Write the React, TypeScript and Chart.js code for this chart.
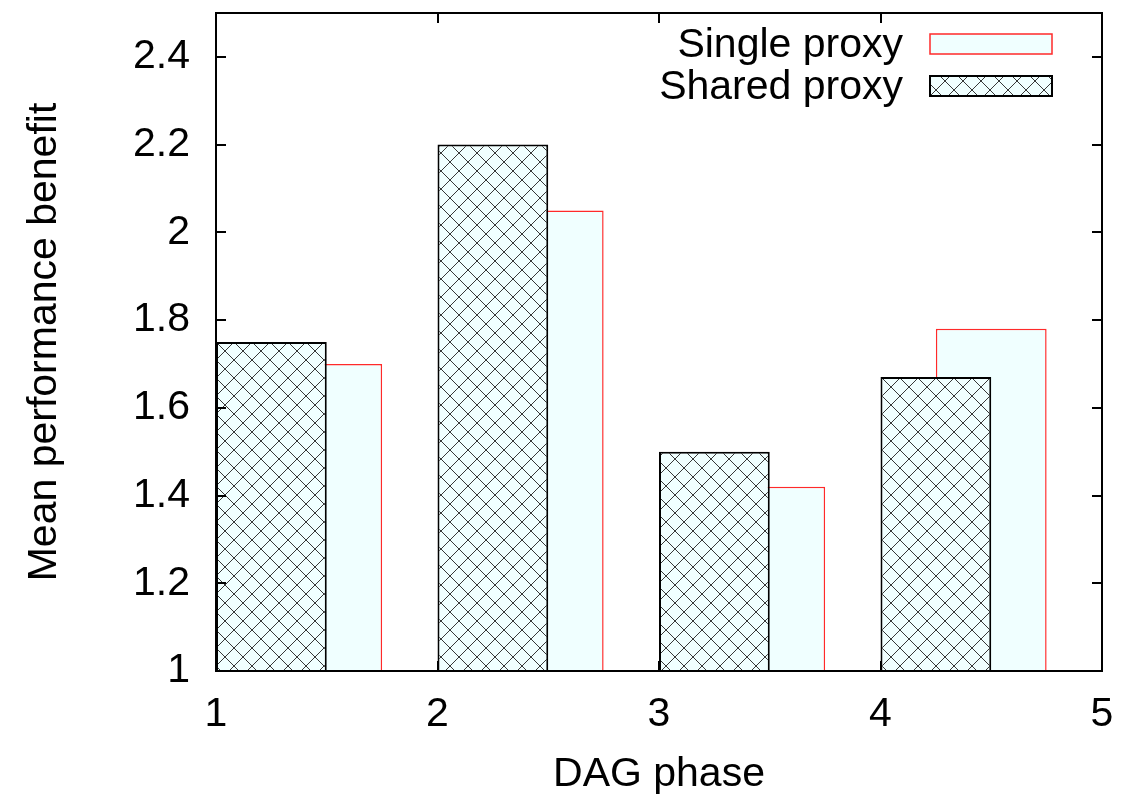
import React, { useEffect, useRef } from 'react';
import { Chart, registerables } from 'chart.js';

Chart.register(...registerables);

// ---- data ----
const phases = [1, 2, 3, 4];
const singleProxy = [1.7, 2.05, 1.42, 1.78];
const sharedProxy = [1.75, 2.2, 1.5, 1.67];
const seriesLabels = ['Single proxy', 'Shared proxy'];
const xTitle = 'DAG phase';
const yTitle = 'Mean performance benefit';

const FONT = "'Liberation Sans', Arial, Helvetica, sans-serif";
const AZURE = '#f0ffff';

function makeHatch(): CanvasPattern | string {
  const s = 18;
  const c = document.createElement('canvas');
  c.width = s;
  c.height = s;
  const g = c.getContext('2d');
  if (!g) return AZURE;
  g.fillStyle = AZURE;
  g.fillRect(0, 0, s, s);
  g.strokeStyle = '#383838';
  g.lineWidth = 1;
  for (const o of [-s, 0, s]) {
    g.beginPath();
    g.moveTo(o - 1, -1);
    g.lineTo(o + s + 1, s + 1);
    g.stroke();
    g.beginPath();
    g.moveTo(o + s + 1, -1);
    g.lineTo(o - 1, s + 1);
    g.stroke();
  }
  return g.createPattern(c, 'repeat') || AZURE;
}

const framePlugin = {
  id: 'gnuFrame',
  afterDatasetsDraw(chart: any) {
    const { ctx, chartArea: a, scales } = chart;
    ctx.save();
    ctx.strokeStyle = '#000';
    ctx.lineWidth = 2;
    const tl = 10;
    ctx.beginPath();
    scales.y.ticks.forEach((t: any) => {
      const py = Math.round(scales.y.getPixelForValue(t.value));
      ctx.moveTo(a.left, py);
      ctx.lineTo(a.left + tl, py);
      ctx.moveTo(a.right, py);
      ctx.lineTo(a.right - tl, py);
    });
    scales.x.ticks.forEach((t: any) => {
      const px = Math.round(scales.x.getPixelForValue(t.value));
      ctx.moveTo(px, a.bottom);
      ctx.lineTo(px, a.bottom - tl);
      ctx.moveTo(px, a.top);
      ctx.lineTo(px, a.top + tl);
    });
    ctx.stroke();
    ctx.strokeRect(a.left, a.top, a.right - a.left, a.bottom - a.top);

    // legend (gnuplot style: text right-aligned, sample box on the right)
    const ds = chart.data.datasets;
    const boxRight = a.right - 50;
    const boxW = 122;
    const boxH = 20;
    const textRight = boxRight - boxW - 27;
    ctx.font = `41px ${FONT}`;
    ctx.textAlign = 'right';
    ctx.textBaseline = 'alphabetic';
    ds.forEach((d: any, i: number) => {
      const cy = a.top + 31 + i * 42;
      ctx.fillStyle = '#000';
      ctx.fillText(d.label, textRight, cy + 13);
      ctx.fillStyle = d.backgroundColor;
      ctx.fillRect(boxRight - boxW, cy - boxH / 2, boxW, boxH);
      ctx.strokeStyle = d.borderColor;
      ctx.lineWidth = d.borderWidth;
      ctx.strokeRect(boxRight - boxW, cy - boxH / 2, boxW, boxH);
    });
    ctx.restore();
  },
};

export default function App() {
  const ref = useRef<HTMLCanvasElement | null>(null);

  useEffect(() => {
    if (!ref.current) return;
    Chart.defaults.font.family = FONT;
    const hatch = makeHatch();
    const chart = new Chart(ref.current, {
      type: 'bar',
      data: {
        datasets: [
          {
            label: seriesLabels[0],
            data: phases.map((p, i) => ({ x: p + 0.5, y: singleProxy[i] })),
            backgroundColor: AZURE,
            borderColor: '#ff2a2a',
            borderWidth: 1.5,
            order: 2,
          },
          {
            label: seriesLabels[1],
            data: phases.map((p, i) => ({ x: p + 0.25, y: sharedProxy[i] })),
            backgroundColor: hatch as any,
            borderColor: '#000',
            borderWidth: 2,
            order: 1,
          },
        ],
      },
      options: {
        animation: false,
        responsive: true,
        maintainAspectRatio: false,
        datasets: { bar: { grouped: false, categoryPercentage: 1, barPercentage: 2 } } as any,
        layout: { padding: { top: 13, right: 39, left: 0, bottom: 0 } },
        plugins: { legend: { display: false }, tooltip: { enabled: false } },
        scales: {
          x: {
            type: 'linear',
            min: 1,
            max: 5,
            offset: false,
            grid: { display: false, drawTicks: false, offset: false },
            border: { display: false },
            ticks: {
              stepSize: 1,
              padding: 23,
              color: '#000',
              font: { size: 41, lineHeight: 1 },
            },
            title: {
              display: true,
              text: xTitle,
              color: '#000',
              font: { size: 41, lineHeight: 1 },
              padding: { top: 0, bottom: 2 },
            },
            afterFit(scale: any) {
              scale.height = 126;
              scale.paddingLeft = 0;
              scale.paddingRight = 0;
            },
          },
          y: {
            min: 1,
            max: 2.5,
            grid: { display: false, drawTicks: false },
            border: { display: false },
            ticks: {
              stepSize: 0.2,
              includeBounds: false,
              padding: 26,
              color: '#000',
              font: { size: 41, lineHeight: 1 },
              callback: (v: any) => String(Math.round(Number(v) * 10) / 10),
            },
            title: {
              display: true,
              text: yTitle,
              color: '#000',
              font: { size: 41, lineHeight: 1 },
              padding: { top: 24, bottom: 0 },
            },
            afterFit(scale: any) {
              scale.width = 216;
              scale.paddingTop = 0;
              scale.paddingBottom = 0;
            },
          },
        },
      },
      plugins: [framePlugin],
    });
    return () => chart.destroy();
  }, []);

  return (
    <div style={{ position: 'fixed', left: 0, top: 0, width: 1141, height: 797, background: '#fff' }}>
      <canvas ref={ref} />
    </div>
  );
}
